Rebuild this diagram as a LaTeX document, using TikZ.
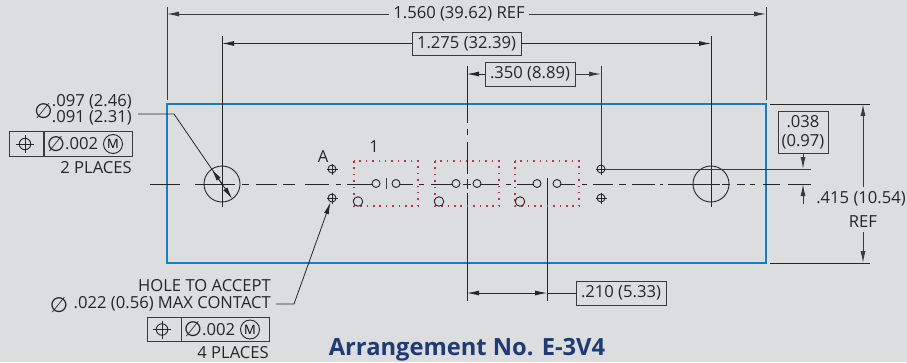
\documentclass[tikz,border=0pt]{standalone}
\usepackage{fontspec}
\setmainfont{Open Sans}
\newfontfamily\symfont{DejaVu Sans}
\usetikzlibrary{arrows.meta}

\definecolor{sheet}{HTML}{DCDDDF}
\definecolor{inkline}{HTML}{3A3A3C}
\definecolor{plateblue}{HTML}{1A7DC0}
\definecolor{dotred}{HTML}{B5354F}
\definecolor{titleblue}{HTML}{1F3A75}

\tikzset{
    lbl/.style={font=\fontsize{16.6}{19}\selectfont, text=black!85, inner sep=0pt},
    dimbox/.style={lbl, draw=inkline, line width=0.9pt, align=center},
    dimline/.style={draw=inkline, line width=1pt},
    thinline/.style={draw=black!85, line width=0.8pt},
    dimtip/.style={-{Latex[length=12pt,width=5pt]}},
    pad/.style={draw=black!85, line width=0.9pt, circle, minimum size=8pt, inner sep=0pt},
    contact/.style={pad, fill=sheet},
    outlinebox/.style={draw=dotred, line width=1.5pt, dash pattern=on 1.5pt off 4.9pt},
    gdt/.style={dimbox, minimum height=24.5pt},
    circm/.style={pad, minimum size=19pt, font=\fontsize{13}{14}\selectfont},
}
\newcommand{\dia}{{\symfont\fontsize{21}{22}\selectfont ∅}}

\begin{document}
\begin{tikzpicture}[x=1pt, y=-1pt]
    \useasboundingbox[fill=sheet] (0, 0) rectangle (907, 362);

    % plate
    \draw[draw=plateblue, line width=1.6pt] (167, 104) rectangle (766, 263);

    % center lines
    \foreach \xa/\xb in {150/180, 195/235, 242/249, 256/277, 283/295, 305/329, 336/341, 347/372,
                         400/413, 419/424, 431/453, 463/471, 481/499, 506/511, 517/533, 561/575,
                         582/587, 593/613, 619/626, 632/655, 660/663, 668/720, 722/730, 737/745,
                         750/755, 763/780}
        \draw[thinline] (\xa, 184) -- (\xb, 184);
    \foreach \ya/\yb in {66/123, 129/135, 142/174, 179/189, 193/301}
        \draw[thinline] (467, \ya) -- (467, \yb);
    \draw[thinline] (547, 178) -- (547, 301);
    \draw[dimline] (386, 178) -- (386, 189);

    % mounting holes
    \node[pad, minimum size=36pt] (holeL) at (222, 184) {};
    \node[pad, minimum size=36pt] (holeR) at (711, 184) {};
    \coordinate (holeLa) at (211.8, 169.2);
    \coordinate (holeLb) at (232.2, 198.8);
    \draw[thinline] (222, 36) -- (222, 207);
    \draw[thinline] (711, 36) -- (711, 207);

    % outlines and contacts
    \foreach \xa/\xb in {354/418, 435/499, 515/579}
        \draw[outlinebox] (\xa, 161) rectangle (\xb, 206);
    \foreach \xc in {376, 396, 456, 477, 537, 557}
        \node[contact] (c\xc) at (\xc, 183.5) {};
    \foreach \xc in {358, 439, 520}
        \node[contact, minimum size=9.5pt] (k\xc) at (\xc, 201.5) {};
    \foreach \xc/\yc/\nm in {332/169/a, 332/198/b, 601/169/c, 601/198/d} {
        \node[contact] (pos\nm) at (\xc, \yc) {};
        \draw[thinline] (\xc-5.5, \yc) -- (\xc+5.5, \yc);
        \draw[thinline] (\xc, \yc-5.5) -- (\xc, \yc+5.5);
    }
    \node[lbl] (lblA) at (323, 157) {A};
    \node[lbl] (lblone) at (374, 147) {1};

    % top dimensions
    \draw[dimline] (167, 7) -- (167, 100);
    \draw[dimline] (766, 7) -- (766, 100);
    \node[lbl, fill=sheet, inner xsep=4pt] (dimA) at (459, 14) {1.560 (39.62) REF};
    \draw[dimline, dimtip] (dimA) -- (167, 14);
    \draw[dimline, dimtip] (dimA) -- (766, 14);

    \node[dimbox, minimum width=109pt, minimum height=23pt] (dimB) at (466.5, 43.5) {1.275 (32.39)};
    \draw[thinline, dimtip] (dimB) -- (222, 43.5);
    \draw[thinline, dimtip] (dimB) -- (711, 43.5);

    \node[dimbox, minimum width=90pt, minimum height=24pt] (dimC) at (530, 74) {.350 (8.89)};
    \draw[dimline] (601, 66) -- (601, 165);
    \draw[thinline, dimtip] (dimC) -- (467, 74);
    \draw[dimline, dimtip] (dimC) -- (601, 74);

    % right dimensions
    \draw[dimline] (posc) -- (811, 169);
    \draw[thinline] (788, 184) -- (811, 184);
    \node[dimbox, minimum width=50pt, minimum height=42pt] (dimD) at (803, 132) {.038\\(0.97)};
    \coordinate (dimDtop) at (803, 169);
    \coordinate (dimDbot) at (803, 184);
    \coordinate (dimDend) at (803, 204);
    \draw[dimline, dimtip] (803, 153) -- (dimDtop);
    \draw[dimline, dimtip] (dimDend) -- (dimDbot);

    \draw[thinline] (770, 104) -- (870, 104);
    \draw[thinline] (770, 263) -- (870, 263);
    \node[lbl] (dimE) at (861, 199) {.415 (10.54)};
    \node[lbl] (dimEb) at (863, 222) {REF};
    \draw[dimline, dimtip] (863, 187) -- (863, 104);
    \draw[dimline, dimtip] (863, 232) -- (863, 263);

    % bottom dimension
    \node[dimbox, minimum width=90pt, minimum height=24pt] (dimF) at (621, 293) {.210 (5.33)};
    \draw[thinline] (dimF) -- (547, 293);
    \draw[thinline, dimtip] (507, 293) -- (467, 293);
    \draw[thinline, dimtip] (507, 293) -- (547, 293);

    % left callout
    \node[lbl, anchor=east] (holeA) at (132, 102) {.097 (2.46)};
    \node[lbl, anchor=east] (holeB) at (132, 118) {.091 (2.31)};
    \node[lbl, anchor=center] (holeDia) at (43.5, 111) {\dia};
    \coordinate (holeBend) at (174, 114);
    \draw[thinline] (138, 114) -- (holeBend) -- (holeL.center);
    \draw[thinline, dimtip] (holeL.center) -- (holeLa);
    \draw[thinline, dimtip] (holeL.center) -- (holeLb);

    \node[gdt, minimum width=34.5pt] (fcfLa) at (26.5, 144) {};
    \node[gdt, minimum width=88pt, anchor=west] (fcfLb) at (fcfLa.east) {};
    \node[pad, minimum size=11.5pt] (fcfLs) at (25, 144) {};
    \draw[thinline] (16, 144) -- (34, 144);
    \draw[thinline] (25, 135) -- (25, 153);
    \node[lbl] (fcfLd) at (56, 144) {\dia};
    \node[lbl, anchor=west] (fcfLt) at (65, 144) {.002};
    \node[circm] (fcfLm) at (113, 144) {M};
    \node[lbl, anchor=east] (placeL) at (132, 168) {2 PLACES};

    % bottom callout
    \node[lbl, anchor=east] (noteA) at (271, 286) {HOLE TO ACCEPT};
    \node[lbl, anchor=east] (noteB) at (271, 304) {.022 (0.56) MAX CONTACT};
    \node[lbl] (noteDia) at (59, 305) {\dia};
    \coordinate (noteBend) at (294, 304);
    \draw[thinline, -{Latex[length=12pt,width=5pt]}] (276, 304) -- (noteBend) -- (posb);
    \node[gdt, minimum width=34pt] (fcfBa) at (164, 329.5) {};
    \node[gdt, minimum width=88pt, anchor=west] (fcfBb) at (fcfBa.east) {};
    \node[pad, minimum size=11.5pt] (fcfBs) at (162, 329.5) {};
    \draw[thinline] (153, 329.5) -- (171, 329.5);
    \draw[thinline] (162, 320.5) -- (162, 338.5);
    \node[lbl] (fcfBd) at (193, 329.5) {\dia};
    \node[lbl, anchor=west] (fcfBt) at (202, 329.5) {.002};
    \node[circm] (fcfBm) at (250, 329.5) {M};
    \node[lbl, anchor=east] (placeB) at (269, 353) {4 PLACES};

    % title
    \node[inner sep=0pt, text=titleblue, font=\fontsize{23.7}{26}\selectfont\bfseries] (title) at (467, 350) {Arrangement No. E-3V4};
\end{tikzpicture}
\end{document}
